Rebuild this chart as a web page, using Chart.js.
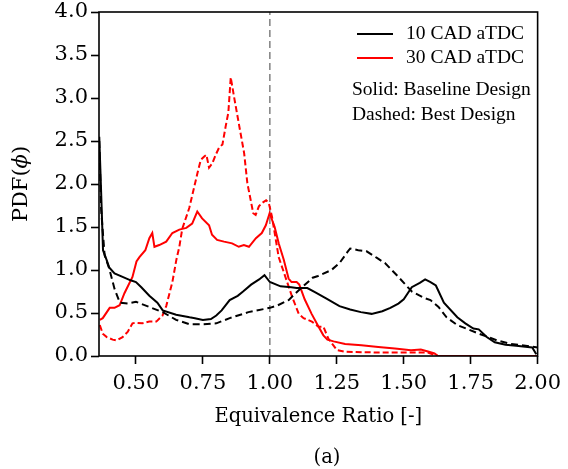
<!DOCTYPE html>
<html>
<head>
<meta charset="utf-8">
<script src="https://cdn.jsdelivr.net/npm/chart.js@4/dist/chart.umd.min.js"></script>
<style>
  html, body { margin: 0; padding: 0; background: #fff; }
  #wrap { width: 568px; height: 469px; }
</style>
</head>
<body>
<div id="wrap"><canvas id="pdf-chart" width="568" height="469"></canvas></div>
<script>
// 10 CAD aTDC, baseline design (solid black)
const base10Phi = [0.363, 0.37, 0.377, 0.39, 0.40, 0.42, 0.45, 0.48, 0.50, 0.52, 0.55, 0.58, 0.60, 0.65, 0.70, 0.72, 0.75, 0.78, 0.80, 0.82, 0.85, 0.88, 0.90, 0.93, 0.96, 0.98, 1.00, 1.04, 1.08, 1.10, 1.14, 1.17, 1.21, 1.26, 1.30, 1.34, 1.38, 1.42, 1.45, 1.48, 1.50, 1.53, 1.56, 1.58, 1.60, 1.62, 1.65, 1.70, 1.73, 1.76, 1.78, 1.81, 1.84, 1.88, 1.92, 1.98, 1.995];
const base10Pdf = [2.55, 1.9, 1.23, 1.12, 1.03, 0.96, 0.92, 0.88, 0.86, 0.80, 0.70, 0.62, 0.53, 0.48, 0.45, 0.44, 0.42, 0.43, 0.47, 0.53, 0.65, 0.70, 0.75, 0.83, 0.89, 0.94, 0.86, 0.81, 0.80, 0.79, 0.79, 0.74, 0.67, 0.58, 0.54, 0.51, 0.49, 0.52, 0.56, 0.61, 0.66, 0.80, 0.85, 0.89, 0.86, 0.82, 0.62, 0.45, 0.38, 0.32, 0.31, 0.22, 0.16, 0.13, 0.12, 0.10, 0.02];

// 10 CAD aTDC, best design (dashed black)
const best10Phi = [0.363, 0.37, 0.383, 0.40, 0.42, 0.44, 0.47, 0.50, 0.55, 0.60, 0.65, 0.70, 0.75, 0.80, 0.85, 0.92, 1.00, 1.03, 1.07, 1.11, 1.16, 1.18, 1.23, 1.26, 1.29, 1.30, 1.33, 1.36, 1.40, 1.43, 1.48, 1.53, 1.58, 1.60, 1.63, 1.66, 1.70, 1.78, 1.85, 1.90, 1.98, 2.0];
const best10Pdf = [2.5, 1.7, 1.17, 1.02, 0.78, 0.62, 0.61, 0.63, 0.57, 0.51, 0.42, 0.37, 0.37, 0.38, 0.44, 0.51, 0.56, 0.59, 0.65, 0.77, 0.91, 0.93, 1.0, 1.08, 1.21, 1.25, 1.23, 1.22, 1.14, 1.08, 0.92, 0.75, 0.67, 0.65, 0.57, 0.45, 0.36, 0.26, 0.18, 0.14, 0.11, 0.10];

// 30 CAD aTDC, baseline design (solid red)
const base30Phi = [0.365, 0.376, 0.402, 0.42, 0.439, 0.457, 0.487, 0.502, 0.513, 0.535, 0.55, 0.561, 0.569, 0.587, 0.613, 0.636, 0.662, 0.688, 0.71, 0.729, 0.747, 0.773, 0.784, 0.803, 0.829, 0.859, 0.884, 0.903, 0.922, 0.948, 0.97, 0.985, 0.999, 1.018, 1.033, 1.052, 1.07, 1.081, 1.10, 1.11, 1.13, 1.156, 1.182, 1.20, 1.215, 1.238, 1.281, 1.342, 1.405, 1.467, 1.527, 1.564, 1.597, 1.615, 1.628, 2.0];
const base30Pdf = [0.42, 0.44, 0.56, 0.56, 0.59, 0.73, 0.92, 1.10, 1.15, 1.23, 1.37, 1.43, 1.27, 1.29, 1.33, 1.43, 1.47, 1.49, 1.54, 1.68, 1.60, 1.52, 1.41, 1.35, 1.33, 1.31, 1.27, 1.29, 1.27, 1.37, 1.43, 1.52, 1.66, 1.50, 1.31, 1.12, 0.90, 0.86, 0.86, 0.83, 0.66, 0.49, 0.34, 0.24, 0.19, 0.17, 0.14, 0.125, 0.105, 0.086, 0.066, 0.075, 0.047, 0.03, 0.0, 0.0];

// 30 CAD aTDC, best design (dashed red)
const best30Phi = [0.365, 0.376, 0.391, 0.413, 0.428, 0.45, 0.469, 0.487, 0.502, 0.524, 0.55, 0.576, 0.599, 0.613, 0.636, 0.651, 0.662, 0.673, 0.699, 0.73, 0.742, 0.755, 0.763, 0.773, 0.785, 0.798, 0.81, 0.823, 0.835, 0.845, 0.854, 0.866, 0.886, 0.904, 0.916, 0.928, 0.938, 0.947, 0.959, 0.971, 0.986, 0.996, 1.008, 1.033, 1.058, 1.083, 1.108, 1.126, 1.157, 1.182, 1.20, 1.219, 1.25, 1.281, 1.405, 1.527, 1.59, 1.615, 1.628, 2.0];
const best30Pdf = [0.36, 0.26, 0.22, 0.19, 0.18, 0.22, 0.28, 0.38, 0.385, 0.38, 0.40, 0.40, 0.47, 0.58, 0.86, 1.12, 1.27, 1.48, 1.72, 2.13, 2.28, 2.32, 2.34, 2.19, 2.24, 2.34, 2.42, 2.46, 2.67, 2.83, 3.24, 3.02, 2.67, 2.36, 2.01, 1.82, 1.66, 1.64, 1.74, 1.78, 1.81, 1.78, 1.62, 1.15, 0.92, 0.69, 0.49, 0.44, 0.40, 0.34, 0.34, 0.20, 0.07, 0.05, 0.04, 0.04, 0.04, 0.01, 0.0, 0.0];

// stoichiometric marker
const stoichPhi = [1.0, 1.0];
const stoichPdf = [0.0, 4.0];

const xTicks = [0.50, 0.75, 1.00, 1.25, 1.50, 1.75, 2.00];
const xMin = 0.362;
const xMax = 2.0;

const legendSeries = ['10 CAD aTDC', '30 CAD aTDC'];
const legendNotes = ['Solid: Baseline Design', 'Dashed: Best Design'];
const panelLabel = '(a)';

const TICK_FONT = { family: 'DejaVu Serif', size: 21 };
const TITLE_FONT = { family: 'DejaVu Serif', size: 19.5 };

function toPoints(xs, ys) {
  return xs.map((x, i) => ({ x: x, y: ys[i] }));
}

function lineSet(label, xs, ys, color, dash, order) {
  return {
    label: label,
    data: toPoints(xs, ys),
    borderColor: color,
    borderWidth: 2,
    borderDash: dash,
    pointRadius: 0,
    tension: 0,
    fill: false,
    order: order,
  };
}

// frame, rotated y title, in-axes legend and panel label
const decorations = {
  id: 'decorations',
  afterDatasetsDraw(chart) {
    const { ctx, chartArea: a } = chart;
    ctx.save();

    ctx.strokeStyle = '#000';
    ctx.lineWidth = 1.6;
    ctx.strokeRect(a.left, a.top, a.right - a.left, a.bottom - a.top);

    // PDF(ϕ) with italic phi
    ctx.translate(22, (a.top + a.bottom) / 2);
    ctx.rotate(-Math.PI / 2);
    ctx.fillStyle = '#000';
    ctx.textBaseline = 'middle';
    const parts = [
      ['PDF(', '21px "DejaVu Serif"'],
      ['ϕ', 'italic 21px "DejaVu Serif"'],
      [')', '21px "DejaVu Serif"'],
    ];
    let total = 0;
    parts.forEach(p => { ctx.font = p[1]; total += ctx.measureText(p[0]).width; });
    let cx = -total / 2;
    parts.forEach(p => {
      ctx.font = p[1];
      ctx.textAlign = 'left';
      ctx.fillText(p[0], cx, 0);
      cx += ctx.measureText(p[0]).width;
    });
    ctx.setTransform(1, 0, 0, 1, 0, 0);

    // legend
    const colors = ['#000', '#ff0000'];
    ctx.font = '19.5px "Liberation Serif"';
    ctx.textBaseline = 'middle';
    ctx.textAlign = 'left';
    legendSeries.forEach((txt, i) => {
      const y = 34 + i * 24;
      ctx.strokeStyle = colors[i];
      ctx.lineWidth = 2;
      ctx.beginPath();
      ctx.moveTo(357, y);
      ctx.lineTo(393, y);
      ctx.stroke();
      ctx.fillStyle = '#000';
      ctx.fillText(txt, 406, y);
    });
    legendNotes.forEach((txt, i) => {
      ctx.fillText(txt, 352, 90 + i * 25);
    });

    ctx.font = '19.5px "DejaVu Serif"';
    ctx.textAlign = 'center';
    ctx.fillText(panelLabel, 327, 458);
    ctx.restore();
  },
};

new Chart(document.getElementById('pdf-chart').getContext('2d'), {
  type: 'line',
  data: {
    datasets: [
      lineSet('10 CAD aTDC', base10Phi, base10Pdf, '#000', [], 1),
      lineSet('10 CAD aTDC best', best10Phi, best10Pdf, '#000', [7, 4], 2),
      lineSet('30 CAD aTDC', base30Phi, base30Pdf, '#ff0000', [], 3),
      lineSet('30 CAD aTDC best', best30Phi, best30Pdf, '#ff0000', [6, 3], 4),
      Object.assign(lineSet('stoich', stoichPhi, stoichPdf, '#808080', [7, 4], 5), { borderWidth: 1.5 }),
    ],
  },
  plugins: [decorations],
  options: {
    responsive: false,
    animation: false,
    layout: { padding: { top: 12, right: 29, left: 0, bottom: 0 } },
    plugins: {
      legend: { display: false },
      tooltip: { enabled: false },
    },
    scales: {
      x: {
        type: 'linear',
        min: xMin,
        max: xMax,
        afterBuildTicks: s => { s.ticks = xTicks.map(v => ({ value: v })); },
        afterFit: s => { s.height = 113; },
        border: { display: false },
        grid: { drawOnChartArea: false, drawTicks: true, tickLength: 8, tickWidth: 1.6, tickColor: '#000' },
        ticks: { color: '#000', font: TICK_FONT, padding: 7, maxRotation: 0, callback: v => v.toFixed(2) },
        title: { display: true, text: 'Equivalence Ratio [-]', color: '#000', font: TITLE_FONT, padding: { top: 0, bottom: 40 } },
      },
      y: {
        min: 0,
        max: 4,
        afterFit: s => { s.width = 99; s.paddingTop = 0; s.paddingBottom = 0; },
        border: { display: false },
        grid: { drawOnChartArea: false, drawTicks: true, tickLength: 8, tickWidth: 1.6, tickColor: '#000' },
        ticks: { color: '#000', font: TICK_FONT, padding: 3, stepSize: 0.5, callback: v => v.toFixed(1) },
      },
    },
  },
});
</script>
</body>
</html>
